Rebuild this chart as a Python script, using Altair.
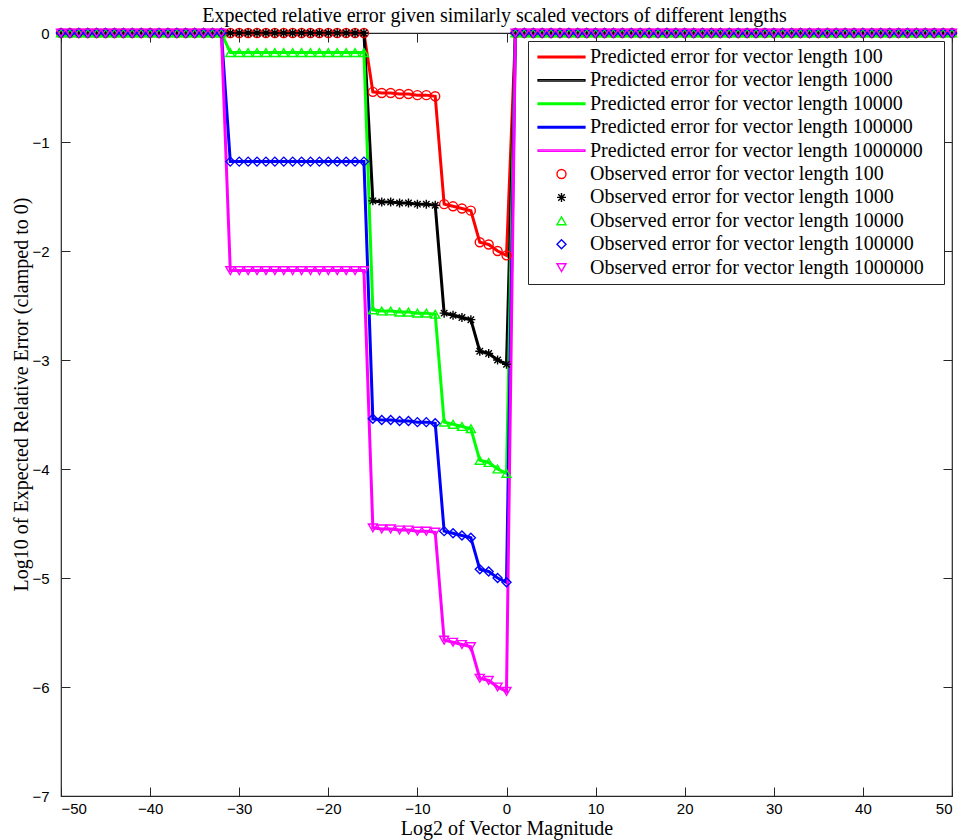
import altair as alt
import pandas as pd

# ---------------- data ----------------
x_values = list(range(-50, 51))  # log2 of vector magnitude
lengths = ["100", "1000", "10000", "100000", "1000000"]
colors = ["#ff0000", "#000000", "#00ff00", "#0000ff", "#ff00ff"]
ASTERISK = "M-1,0L1,0M0,-1L0,1M-0.72,-0.72L0.72,0.72M-0.72,0.72L0.72,-0.72"
LINE = "M-5.2,-0.17L5.2,-0.17L5.2,0.17L-5.2,0.17Z"
marker_shapes = ["circle", ASTERISK, "triangle-up", "diamond", "triangle-down"]

# x = -50..-32 (19 pts), -31..-16 (16), -15..-8 (8), -7..-4 (4), -3..0 (4), 1..50 (50)
err_100 = ([0.0] * 19 + [0.0] * 16
           + [-0.54, -0.55, -0.55, -0.56, -0.56, -0.57, -0.57, -0.58]
           + [-1.57, -1.59, -1.61, -1.63]
           + [-1.92, -1.94, -2.00, -2.04]
           + [0.0] * 50)
err_1000 = ([0.0] * 19 + [0.0] * 16
            + [-1.54, -1.55, -1.55, -1.56, -1.56, -1.57, -1.57, -1.58]
            + [-2.57, -2.59, -2.61, -2.63]
            + [-2.92, -2.94, -3.00, -3.04]
            + [0.0] * 50)
err_10000 = ([0.0] * 19 + [-0.18] * 16
             + [-2.54, -2.55, -2.55, -2.56, -2.56, -2.57, -2.57, -2.58]
             + [-3.57, -3.59, -3.61, -3.63]
             + [-3.92, -3.94, -4.00, -4.04]
             + [0.0] * 50)
err_100000 = ([0.0] * 19 + [-1.18] * 16
              + [-3.54, -3.55, -3.55, -3.56, -3.56, -3.57, -3.57, -3.58]
              + [-4.57, -4.59, -4.61, -4.63]
              + [-4.92, -4.94, -5.00, -5.04]
              + [0.0] * 50)
err_1000000 = ([0.0] * 19 + [-2.18] * 16
               + [-4.54, -4.55, -4.55, -4.56, -4.56, -4.57, -4.57, -4.58]
               + [-5.57, -5.59, -5.61, -5.63]
               + [-5.92, -5.94, -6.00, -6.04]
               + [0.0] * 50)
series = [err_100, err_1000, err_10000, err_100000, err_1000000]

x_ticks = [-50, -40, -30, -20, -10, 0, 10, 20, 30, 40, 50]
y_ticks = [-7, -6, -5, -4, -3, -2, -1, 0]

# ---------------- table ----------------
pred_labels = [f"Predicted error for vector length {n}" for n in lengths]
obs_labels = [f"Observed error for vector length {n}" for n in lengths]
rows = []
for lab, errs in zip(pred_labels, series):
    for x, y in zip(x_values, errs):
        rows.append({"x": x, "y": y, "label": lab, "kind": "pred"})
for lab, errs in zip(obs_labels, series):
    for x, y in zip(x_values, errs):
        rows.append({"x": x, "y": y, "label": lab, "kind": "obs"})
df = pd.DataFrame(rows)

all_labels = pred_labels + obs_labels
color_scale = alt.Scale(domain=all_labels, range=colors + colors)
shape_scale = alt.Scale(domain=all_labels, range=[LINE] * 5 + marker_shapes)
xs = alt.Scale(domain=[-50, 50], nice=False, zero=False)
ys = alt.Scale(domain=[-7, 0], nice=False, zero=False)

TICK = 9
legend = alt.Legend(
    title="\u00a0", titleOrient="right", titlePadding=14, titleFontSize=1,
    orient="top-right", offset=8, padding=6,
    strokeColor="#262626", fillColor="white",
    labelFont="Liberation Serif", labelFontSize=20, labelColor="black",
    labelLimit=500, rowPadding=3.4, symbolSize=81,
    symbolStrokeWidth=1.4, symbolFillColor="transparent",
    symbolOffset=17.5, labelOffset=18.5,
)

lines = alt.Chart(df).transform_filter(alt.datum.kind == "pred").mark_line(strokeWidth=3).encode(
    x=alt.X("x:Q", scale=xs, axis=alt.Axis(
        orient="bottom", values=x_ticks, offset=-TICK, tickSize=TICK, domain=False, grid=False,
        labelPadding=5, title="Log2 of Vector Magnitude", titlePadding=2, titleFontSize=20)),
    y=alt.Y("y:Q", scale=ys, axis=alt.Axis(
        orient="left", values=y_ticks, offset=-TICK, tickSize=TICK, domain=False, grid=False,
        labelPadding=12, title="Log10 of Expected Relative Error (clamped to 0)", titlePadding=0,
        titleFontSize=20, titleY=361)),
    color=alt.Color("label:N", scale=color_scale, legend=legend),
    detail="label:N",
)

points = alt.Chart(df).transform_filter(alt.datum.kind == "obs").mark_point(
    filled=False, size=81, strokeWidth=1.4, opacity=1).encode(
    x=alt.X("x:Q", scale=xs, axis=None),
    y=alt.Y("y:Q", scale=ys, axis=None),
    color=alt.Color("label:N", scale=color_scale, legend=legend),
    shape=alt.Shape("label:N", scale=shape_scale, legend=legend),
)

frame = alt.Chart(df).mark_point(opacity=0).encode(
    x=alt.X("x:Q", scale=xs, axis=alt.Axis(
        orient="top", values=x_ticks, offset=-TICK, tickSize=TICK, domain=False, grid=False,
        labels=False, title=None)),
    y=alt.Y("y:Q", scale=ys, axis=alt.Axis(
        orient="right", values=y_ticks, offset=-TICK, tickSize=TICK, domain=False, grid=False,
        labels=False, title=None)),
)

chart = alt.layer(lines, points, frame).resolve_axis(x="independent", y="independent").properties(
    width=891, height=763,
    title=alt.Title("Expected relative error given similarly scaled vectors of different lengths",
                    font="Liberation Serif", fontSize=20, fontWeight="normal", color="black",
                    anchor="middle", frame="group", baseline="alphabetic", offset=1, dx=-12, dy=17),
    autosize=alt.AutoSizeParams(type="none"),
    padding={"left": 61, "top": 33, "right": 11, "bottom": 44},
).configure_view(stroke="#262626", strokeWidth=1.2).configure_axis(
    labelFont="Liberation Sans", labelFontSize=15, labelColor="black",
    tickColor="#262626", tickWidth=1,
    titleFont="Liberation Serif", titleFontSize=19, titleFontWeight="normal", titleColor="black",
)

chart.save("out.html", embed_options={"renderer": "svg", "actions": False})
